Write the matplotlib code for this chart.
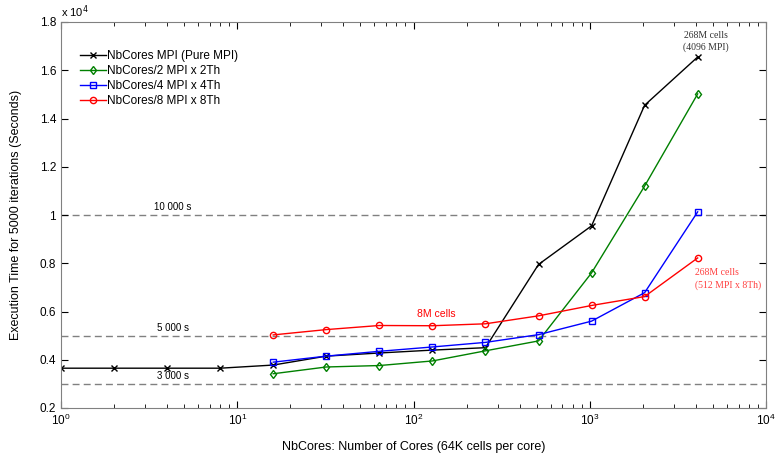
import numpy as np
import matplotlib.pyplot as plt
from matplotlib.ticker import FuncFormatter, LogLocator

plt.rcParams['font.family'] = ['Liberation Sans', 'DejaVu Sans']

# Data (execution time in seconds)
cores_pure = [1, 2, 4, 8, 16, 32, 64, 128, 256, 512, 1024, 2048, 4096]
time_pure = [3650, 3650, 3650, 3650, 3780, 4150, 4280, 4400, 4500, 7950, 9550, 14550, 16550]

cores_hyb = [16, 32, 64, 128, 256, 512, 1024, 2048, 4096]
time_2th = [3420, 3700, 3760, 3950, 4370, 4780, 7600, 11200, 15020]
time_4th = [3900, 4150, 4350, 4530, 4720, 5040, 5600, 6780, 10130]
time_8th = [5030, 5250, 5420, 5410, 5490, 5820, 6250, 6620, 8220]

ref_levels = [3000, 5000, 10000]
ref_labels = ['3 000 s', '5 000 s', '10 000 s']

fig = plt.figure(figsize=(7.75, 4.53), dpi=100)
ax = fig.add_axes([61/775, 45/453, 705/775, 386/453])

# reference lines
for lv, lb in zip(ref_levels, ref_labels):
    ax.axhline(lv, color='#808080', ls='--', lw=1.0, dashes=(5, 3), zorder=1)
    ax.text(4.3, lv + 120, lb, fontsize=7, ha='center', va='bottom')

ax.plot(cores_pure, time_pure, color='black', marker='x', ms=4, mew=1.0,
        lw=1.0, label='NbCores MPI (Pure MPI)')
ax.plot(cores_hyb, time_2th, color='#008000', marker='d', ms=4.5, mfc='none',
        lw=1.0, label='NbCores/2 MPI x 2Th')
ax.plot(cores_hyb, time_4th, color='#0000ff', marker='s', ms=4.5, mfc='none',
        lw=1.0, label='NbCores/4 MPI x 4Th')
ax.plot(cores_hyb, time_8th, color='#ff0000', marker='o', ms=4.5, mfc='none',
        lw=1.0, label='NbCores/8 MPI x 8Th')

# annotations
ax.text(134, 5900, '8M cells', color='#ff0000', fontsize=7.5, ha='center', va='center')
ax.text(4550, 17200, '268M cells\n(4096 MPI)', fontsize=7, ha='center', va='center',
        family=['Liberation Serif', 'DejaVu Serif'], color='#333333', linespacing=1.4)
ax.text(3950, 7350, '268M cells\n(512 MPI x 8Th)', fontsize=7, ha='left', va='center',
        family=['Liberation Serif', 'DejaVu Serif'], color='#ff4040', linespacing=1.4)

ax.set_xscale('log')
ax.set_xlim(1, 1e4)
ax.set_ylim(2000, 18000)
ax.set_yticks(np.arange(2000, 18001, 2000))
ax.yaxis.set_major_formatter(FuncFormatter(lambda v, p: '%g' % (v / 1e4)))
ax.xaxis.set_major_locator(LogLocator(base=10, numticks=10))
ax.xaxis.set_minor_locator(LogLocator(base=10, subs=np.arange(2, 10), numticks=10))

ax.text(0, 1.005, r'x 10$^4$', transform=ax.transAxes, fontsize=8, ha='left', va='bottom')

ax.tick_params(which='both', direction='in', top=True, right=True, labelsize=8.5)
ax.tick_params(which='major', length=5)
ax.tick_params(which='minor', length=3)
for s in ax.spines.values():
    s.set_color('#808080')

ax.set_xlabel('NbCores: Number of Cores (64K cells per core)', fontsize=9, labelpad=9)
ax.set_ylabel('Execution Time for 5000 iterations (Seconds)', fontsize=9, labelpad=13)

ax.legend(loc='upper left', bbox_to_anchor=(0.02, 0.94), frameon=False, fontsize=8.5,
          handlelength=2.2, handletextpad=0.1, labelspacing=0.25, borderaxespad=0)

fig.savefig('out.png', dpi=100)
